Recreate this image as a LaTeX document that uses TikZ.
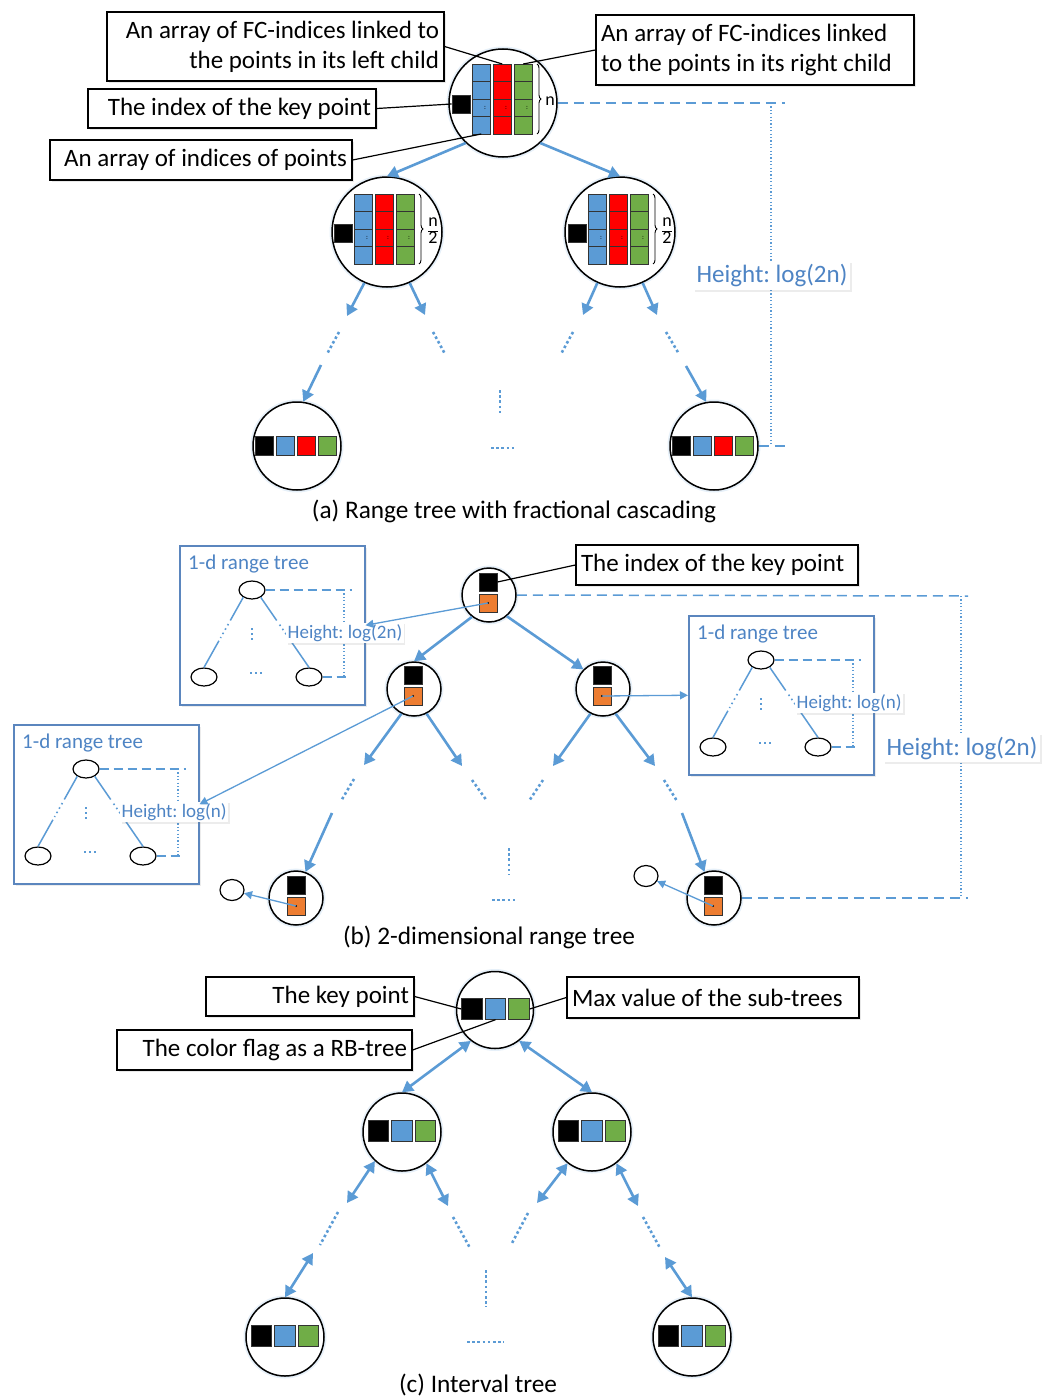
\documentclass[tikz,border=0pt]{standalone}
\usepackage{fontspec}
\setmainfont{Carlito}
\frenchspacing
\usetikzlibrary{arrows.meta,shadows,decorations.pathreplacing,shapes.geometric,calc}
\definecolor{cblue}{HTML}{5B9BD5}
\definecolor{cred}{HTML}{FF0000}
\definecolor{cgreen}{HTML}{70AD47}
\definecolor{corange}{HTML}{ED7D31}
\definecolor{ctext}{HTML}{4E84C4}
\definecolor{cbox}{HTML}{5B86BE}
\newcommand\fsbig{\fontsize{25}{30}\selectfont}
\newcommand\nsp{\spaceskip=0pt\xspaceskip=0pt\relax}
\tikzset{
 tnode/.style={circle, draw=black, line width=1.5pt, fill=white, inner sep=0pt,
   preaction={draw=cblue!60, line width=5pt, opacity=0.25}},
 cellst/.style={draw=black!80, line width=0.9pt},
 sqk/.style={rectangle, draw=black!80, line width=0.9pt, inner sep=0pt, minimum size=#1},
 callout/.style={draw=black, line width=1.3pt, fill=white, font=\fsbig, inner xsep=5pt, inner ysep=3pt,
   drop shadow={shadow xshift=2pt, shadow yshift=-2pt, opacity=0.18}},
 pointer/.style={draw=black, line width=1.2pt},
 tarrow/.style={draw=cblue, line width=2.6pt, -{Triangle[length=11pt,width=12pt]}},
 darrow/.style={draw=cblue, line width=2.6pt, {Triangle[length=11pt,width=12pt]}-{Triangle[length=11pt,width=12pt]}},
 tdots/.style={draw=cblue, line width=2.6pt, dash pattern=on 2.6pt off 2.6pt},
 hdash/.style={draw=cblue, line width=1.5pt, dash pattern=on 10pt off 6pt},
 vdotline/.style={draw=cblue, line width=1.2pt, dash pattern=on 1.2pt off 2.2pt},
 hlabel/.style={fill=white, text=ctext, inner sep=3pt,
   drop shadow={shadow xshift=1.5pt, shadow yshift=-1.5pt, opacity=0.15}},
 thinarrow/.style={draw=cblue, line width=1.3pt, -{Triangle[length=8pt,width=8pt]}},
 smallell/.style={ellipse, draw=black, line width=1.2pt, fill=white, inner sep=0pt, minimum width=26pt, minimum height=18pt},
 inline/.style={draw=cblue, line width=1.5pt},
 indots/.style={draw=cblue, line width=1.6pt, dash pattern=on 1.6pt off 3.4pt},
 capt/.style={font=\fontsize{25.3}{30}\selectfont, inner sep=0pt},
 fracl/.style={font=\fontsize{18}{18}\selectfont, inner sep=0pt},
}
% column of four cells: x, ytop, colour, name
\newcommand\fccol[4]{%
 \foreach \i in {0,1,2,3}{\draw[cellst, fill=#3] (#1,{#2+\i*17.5}) rectangle ++(18.5,17.5);}
 \node[font=\fontsize{7}{7}\selectfont, inner sep=0pt] at ({#1+13},{#2+43.75}) {:};
 \coordinate (#4t) at ({#1+9.25},#2);
 \coordinate (#4b) at ({#1+9.25},{#2+70});}
% four squares in a leaf: cx, cy, prefix
\newcommand\quadsq[3]{%
 \node[sqk=18.5pt, fill=black]  (#3k) at ({#1-32.75},#2) {};
 \node[sqk=18.5pt, fill=cblue]  (#3b) at ({#1-11.75},#2) {};
 \node[sqk=18.5pt, fill=cred]   (#3r) at ({#1+9.25},#2) {};
 \node[sqk=18.5pt, fill=cgreen] (#3g) at ({#1+30.25},#2) {};}
% three squares: cx, cy, prefix
\newcommand\tripsq[3]{%
 \node[sqk=20.5pt, fill=black]  (#3k) at ({#1-23.5},#2) {};
 \node[sqk=20.5pt, fill=cblue]  (#3b) at (#1,#2) {};
 \node[sqk=20.5pt, fill=cgreen] (#3g) at ({#1+23.5},#2) {};}
% black + orange pair: cx, cy of black square, prefix
\newcommand\kopair[3]{%
 \node[sqk=18pt, fill=black]   (#3k) at (#1,#2) {};
 \node[sqk=18pt, fill=corange] (#3o) at (#1,{#2+21}) {};
 \fill[black] (#3o.center) circle[radius=1.2pt];}
% 1-d range tree box: x, y, prefix, label
\newcommand\onedtree[4]{%
 \begin{scope}[shift={(#1,#2)}]
 \node[draw=cbox, line width=1.5pt, fill=white, minimum width=185pt, minimum height=159pt, inner sep=0pt,
   anchor=north west, drop shadow={shadow xshift=2pt, shadow yshift=-2pt, opacity=0.15}] (#3box) at (0,0) {};
 \node[anchor=west, text=ctext, font=\fontsize{21}{24}\selectfont, inner sep=0pt] (#3title) at (9,19) {1-d range tree};
 \node[smallell] (#3root) at (73,45) {};
 \node[smallell] (#3l) at (25,132) {};
 \node[smallell] (#3r) at (130,132) {};
 \draw[inline] (#3root.-140) -- ($(#3root.-140)!0.33!(#3l.north)$);
 \draw[indots] ($(#3root.-140)!0.38!(#3l.north)$) -- ($(#3root.-140)!0.58!(#3l.north)$);
 \draw[inline] ($(#3root.-140)!0.62!(#3l.north)$) -- (#3l.north);
 \draw[inline] (#3root.-40) -- ($(#3root.-40)!0.33!(#3r.north)$);
 \draw[indots] ($(#3root.-40)!0.39!(#3r.north)$) -- ($(#3root.-40)!0.53!(#3r.north)$);
 \draw[inline] ($(#3root.-40)!0.58!(#3r.north)$) -- (#3r.north);
 \coordinate (#3v1) at (73,83); \coordinate (#3v2) at (73,96);
 \draw[indots] (#3v1) -- (#3v2);
 \coordinate (#3h1) at (71,128); \coordinate (#3h2) at (85,128);
 \draw[indots] (#3h1) -- (#3h2);
 \coordinate (#3d1) at (173,45); \coordinate (#3d2) at (165,45);
 \coordinate (#3d3) at (165,132); \coordinate (#3d4) at (168,132);
 \draw[hdash, line width=1.4pt, dash pattern=on 9pt off 5pt] (#3root.east) -- (#3d1);
 \draw[vdotline] (#3d2) -- (#3d3);
 \draw[hdash, line width=1.4pt, dash pattern=on 9pt off 5pt] (#3r.east) -- (#3d4);
 \node[hlabel, anchor=west, font=\fontsize{19}{22}\selectfont, inner sep=1.5pt] (#3hl) at (107,88) {#4};
 \end{scope}}

\begin{document}
\begin{tikzpicture}[x=1pt,y=-1pt]
\useasboundingbox (0,0) rectangle (1047,1397);

%%%%%%%%%%%%%%%% (a) %%%%%%%%%%%%%%%%
\node[tnode, minimum size=108pt] (ra) at (503,103) {};
\node[tnode, minimum size=110pt] (la) at (387,232) {};
\node[tnode, minimum size=110pt] (lb) at (620,232) {};
\node[tnode, minimum size=88pt] (a1) at (297,446) {};
\node[tnode, minimum size=88pt] (a2) at (714,446) {};

\node[sqk=18pt, fill=black] (rak) at (461,104) {};
\fccol{472}{64}{cblue}{rab}
\fccol{493}{64}{cred}{rar}
\fccol{514}{64}{cgreen}{rag}
\draw[line width=0.9pt, decorate, decoration={brace, amplitude=4pt}] (537,64) -- (537,134);
\node[fracl] (ran) at (550,101) {n};

\node[sqk=18pt, fill=black] (lak) at (343,233) {};
\fccol{354}{194}{cblue}{lab}
\fccol{375}{194}{cred}{lar}
\fccol{396}{194}{cgreen}{lag}
\draw[line width=0.9pt, decorate, decoration={brace, amplitude=4pt}] (419,194) -- (419,264);
\node[fracl] (lan) at (433,232)
  {\renewcommand\arraystretch{0.85}\begin{tabular}{@{}c@{}}n\\\hline 2\end{tabular}};

\node[sqk=18pt, fill=black] (lbk) at (577,233) {};
\fccol{588}{194}{cblue}{lbb}
\fccol{609}{194}{cred}{lbr}
\fccol{630}{194}{cgreen}{lbg}
\draw[line width=0.9pt, decorate, decoration={brace, amplitude=4pt}] (653,194) -- (653,264);
\node[fracl] (lbn) at (667,232)
  {\renewcommand\arraystretch{0.85}\begin{tabular}{@{}c@{}}n\\\hline 2\end{tabular}};

\quadsq{297}{446}{a1s}
\quadsq{714}{446}{a2s}

% tree arrows (a)
\draw[tarrow] (ra.-133) -- (la.north);
\draw[tarrow] (ra.-47) -- (lb.north);
\coordinate (al1) at (347,316); \coordinate (al2) at (339,332); \coordinate (al3) at (327,354); \coordinate (al4) at (321,365);
\draw[tarrow] (la.-114) -- (al1);
\draw[tdots] (al2) -- (al3);
\draw[tarrow] (al4) -- (a1.82);
\coordinate (ar1) at (425,315); \coordinate (ar2) at (433,332); \coordinate (ar3) at (445,354);
\draw[tarrow] (la.-66) -- (ar1);
\draw[tdots] (ar2) -- (ar3);
\coordinate (bl1) at (583,315); \coordinate (bl2) at (573,332); \coordinate (bl3) at (561,354);
\draw[tarrow] (lb.-114) -- (bl1);
\draw[tdots] (bl2) -- (bl3);
\coordinate (br1) at (657,315); \coordinate (br2) at (666,332); \coordinate (br3) at (679,354); \coordinate (br4) at (686,366);
\draw[tarrow] (lb.-66) -- (br1);
\draw[tdots] (br2) -- (br3);
\draw[tarrow] (br4) -- (a2.100);
\coordinate (am1) at (500,390); \coordinate (am2) at (500,413);
\coordinate (am3) at (491,448); \coordinate (am4) at (516,448);
\draw[tdots] (am1) -- (am2);
\draw[tdots] (am3) -- (am4);

% height (a)
\coordinate (ad1) at (785,103); \coordinate (ad2) at (771,103);
\coordinate (ad3) at (771,446); \coordinate (ad4) at (785,446);
\draw[hdash] (ra.east) -- (ad1);
\draw[vdotline] (ad2) -- (ad3);
\draw[hdash] (a2.east) -- (ad4);
\node[hlabel, font=\fsbig] (ah) at (772,276) {Height: log(2n)};

% callouts (a)
\node[callout, text width=327pt, align=right, minimum height=69pt] (c1) at (275.5,46.5)
  {\nsp\mbox{An array of FC-indices linked to}\\\mbox{the points in its left child}};
\node[callout, text width=308pt, align=left, minimum height=70pt] (c2) at (755,50)
  {\nsp\mbox{An array of FC-indices linked}\\\mbox{to the points in its right child}};
\node[callout, text width=278pt, align=right, minimum height=39pt] (c3) at (232,108.5)
  {\nsp\mbox{The index of the key point}};
\node[callout, text width=292pt, align=right, minimum height=40pt] (c4) at (201,160)
  {\nsp\mbox{An array of indices of points}};
\draw[pointer] (c1.east) -- (rart);
\draw[pointer] (c2.west) -- (ragt);
\draw[pointer] (c3.east) -- (rak.west);
\draw[pointer] (c4.east) -- (rabb);

\node[capt] (capa) at (514,511) {(a) Range tree with fractional cascading};

%%%%%%%%%%%%%%%% (b) %%%%%%%%%%%%%%%%
\onedtree{179}{545}{ta}{Height: log(2n)}
\onedtree{688}{615}{tb}{Height: log(n)}
\onedtree{13}{724}{tc}{Height: log(n)}

\node[tnode, minimum size=54pt] (bra) at (489,595) {};
\node[tnode, minimum size=54pt] (bl) at (414,689) {};
\node[tnode, minimum size=54pt] (br) at (603,689) {};
\node[tnode, minimum size=54pt] (b1) at (296,898) {};
\node[tnode, minimum size=54pt] (b2) at (714,898) {};
\kopair{488}{582}{brap}
\kopair{413}{675}{blp}
\kopair{602}{675}{brp}
\kopair{296}{885}{b1p}
\kopair{713}{885}{b2p}

\node[smallell, minimum width=24pt, minimum height=21pt] (se1) at (232,890) {};
\node[smallell, minimum width=24pt, minimum height=21pt] (se2) at (646,876) {};
\draw[thinarrow] (b1po.center) -- (se1.-15);
\draw[thinarrow] (b2po.center) -- (se2.-25);

\draw[thinarrow] (brapo.center) -- (tabox.east);
\draw[thinarrow] (brpo.center) -- (tbbox.west);
\draw[thinarrow] (blpo.center) -- (tcbox.east);

\draw[tarrow] (bra.-128) -- (bl.north);
\draw[tarrow] (bra.-50) -- (br.135);
\coordinate (bll1) at (364,765); \coordinate (bll2) at (354,779); \coordinate (bll3) at (341,801); \coordinate (bll4) at (332,813);
\draw[tarrow] (bl.-117) -- (bll1);
\draw[tdots] (bll2) -- (bll3);
\draw[tarrow] (bll4) -- (b1.70);
\coordinate (blr1) at (462,766); \coordinate (blr2) at (472,780); \coordinate (blr3) at (487,801);
\draw[tarrow] (bl.-63) -- (blr1);
\draw[tdots] (blr2) -- (blr3);
\coordinate (brl1) at (553,766); \coordinate (brl2) at (543,780); \coordinate (brl3) at (529,801);
\draw[tarrow] (br.-117) -- (brl1);
\draw[tdots] (brl2) -- (brl3);
\coordinate (brr1) at (655,766); \coordinate (brr2) at (664,780); \coordinate (brr3) at (677,801); \coordinate (brr4) at (682,813);
\draw[tarrow] (br.-63) -- (brr1);
\draw[tdots] (brr2) -- (brr3);
\draw[tarrow] (brr4) -- (b2.110);
\coordinate (bm1) at (509,848); \coordinate (bm2) at (509,875);
\coordinate (bm3) at (492,900); \coordinate (bm4) at (518,900);
\draw[tdots] (bm1) -- (bm2);
\draw[tdots] (bm3) -- (bm4);

\coordinate (bd1) at (968,596); \coordinate (bd2) at (961,596);
\coordinate (bd3) at (961,898); \coordinate (bd4) at (968,898);
\draw[hdash] (bra.east) -- (bd1);
\draw[vdotline] (bd2) -- (bd3);
\draw[hdash] (b2.east) -- (bd4);
\node[hlabel, font=\fsbig] (bh) at (962,748) {Height: log(2n)};

\node[callout, text width=272pt, align=left, minimum height=40pt] (bc) at (717,565)
  {\nsp\mbox{The index of the key point}};
\draw[pointer] (bc.west) -- (brapk.east);

\node[capt] (capb) at (489,937) {(b) 2-dimensional range tree};

%%%%%%%%%%%%%%%% (c) %%%%%%%%%%%%%%%%
\node[tnode, minimum size=77pt] (cr) at (495,1010) {};
\node[tnode, minimum size=78pt] (cl) at (402,1132) {};
\node[tnode, minimum size=78pt] (crr) at (592,1132) {};
\node[tnode, minimum size=78pt] (cl1) at (285,1337) {};
\node[tnode, minimum size=78pt] (cl2) at (692,1337) {};
\tripsq{495.5}{1009}{crs}
\tripsq{402}{1131}{cls}
\tripsq{592}{1131}{crrs}
\tripsq{285}{1336}{cl1s}
\tripsq{692}{1336}{cl2s}

\draw[darrow] (cr.-128) -- (cl.north);
\draw[darrow] (cr.-52) -- (crr.north);
\coordinate (cll1) at (347,1203); \coordinate (cll2) at (338,1212); \coordinate (cll3) at (320,1245); \coordinate (cll4) at (313,1253);
\draw[darrow] (cl.-133) -- (cll1);
\draw[tdots] (cll2) -- (cll3);
\draw[darrow] (cll4) -- (cl1.north);
\coordinate (clr1) at (448,1206); \coordinate (clr2) at (453,1217); \coordinate (clr3) at (470,1248);
\draw[darrow] (cl.-52) -- (clr1);
\draw[tdots] (clr2) -- (clr3);
\coordinate (crl1) at (537,1203); \coordinate (crl2) at (528,1213); \coordinate (crl3) at (511,1245);
\draw[darrow] (crr.-128) -- (crl1);
\draw[tdots] (crl2) -- (crl3);
\coordinate (crr1) at (638,1206); \coordinate (crr2) at (643,1217); \coordinate (crr3) at (660,1248); \coordinate (crr4) at (665,1257);
\draw[darrow] (crr.-52) -- (crr1);
\draw[tdots] (crr2) -- (crr3);
\draw[darrow] (crr4) -- (cl2.north);
\coordinate (cm1) at (486,1270); \coordinate (cm2) at (486,1307);
\coordinate (cm3) at (467,1342); \coordinate (cm4) at (504,1342);
\draw[tdots] (cm1) -- (cm2);
\draw[tdots] (cm3) -- (cm4);

\node[callout, text width=198pt, align=right, minimum height=39pt] (ck) at (310,996.5) {\nsp\mbox{The key point}};
\node[callout, text width=285pt, align=right, minimum height=40pt] (cf) at (264.5,1050) {\nsp\mbox{The color flag as a RB-tree}};
\node[callout, text width=282pt, align=left, minimum height=41pt] (cm) at (713,997.5) {\nsp\mbox{Max value of the sub-trees}};
\draw[pointer] (ck.east) -- (crsk.west);
\draw[pointer] (cf.east) -- (crsb.south);
\draw[pointer] (cm.west) -- (crsg.east);

\node[capt] (capc) at (478,1385) {(c) Interval tree};
\end{tikzpicture}
\end{document}
